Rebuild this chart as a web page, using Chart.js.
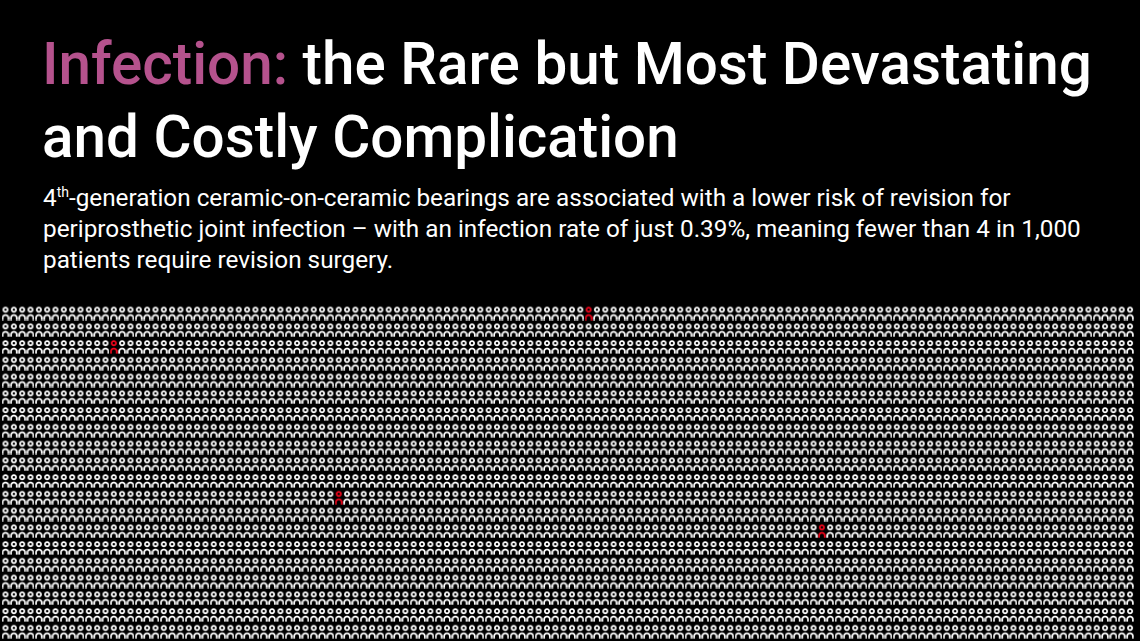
<!DOCTYPE html>
<html>
<head>
<meta charset="utf-8">
<script src="https://cdn.jsdelivr.net/npm/chart.js@4.4.1/dist/chart.umd.min.js"></script>
<style>
  html, body { margin: 0; padding: 0; background: #000; }
  body { width: 1140px; height: 641px; position: relative; overflow: hidden; font-family: Roboto, "Noto Sans", sans-serif; color: #fff; }
  .title { position: absolute; left: 42px; top: 28px; font-size: 58.4px; font-weight: 500; line-height: 73px; white-space: nowrap; }
  .title .hl { color: #b5528d; }
  .sub { position: absolute; left: 43px; top: 182px; font-size: 24.3px; line-height: 31px; white-space: nowrap; }
  .sub sup { font-size: 14px; line-height: 0; vertical-align: 9px; }
  .chart-wrap { position: absolute; left: 0; top: 300px; width: 1140px; height: 341px; }
</style>
</head>
<body>
<div class="title"><span class="hl">Infection:</span> the Rare but Most Devastating<br>and Costly Complication</div>
<div class="sub">4<sup>th</sup>-generation ceramic-on-ceramic bearings are associated with a lower risk of revision for<br>periprosthetic joint infection – with an infection rate of just 0.39%, meaning fewer than 4 in 1,000<br>patients require revision surgery.</div>
<div class="chart-wrap"><canvas id="peopleChart"></canvas></div>
<script>
// pittogramma: griglia di persone, quelle infette in rosso
const GRID_COLS = 136;
const GRID_ROWS = 20;
// celle infette [colonna, riga]
const INFECTED_COLS = [70, 13, 40, 98];
const INFECTED_ROWS = [0, 2, 11, 13];

const WHITE = "#ffffff";
const RED = "#f2061c";
const ICON_W = 8, ICON_H = 15, SS = 4; // SS: sovracampionamento

// icona persona: disegnata in alta risoluzione, poi usata come Image 8x15
function personIcon(color){
  return new Promise(resolve => {
    const c = document.createElement("canvas");
    c.width = ICON_W * SS; c.height = ICON_H * SS;
    const g = c.getContext("2d");
    g.scale(SS, SS);
    g.strokeStyle = color;
    g.lineWidth = 1.75;
    g.beginPath();
    g.arc(4, 4.2, 2.1, 0, Math.PI * 2);
    g.stroke();
    g.beginPath();
    g.moveTo(1.15, 14.6);
    g.lineTo(1.15, 12.4);
    g.arc(4, 12.4, 2.85, Math.PI, Math.PI * 2);
    g.lineTo(6.85, 14.6);
    g.stroke();
    const img = new Image();
    img.onload = () => { img.width = ICON_W; img.height = ICON_H; resolve(img); };
    img.src = c.toDataURL();
  });
}

const infectedKey = new Set(INFECTED_COLS.map((c, i) => c + "-" + INFECTED_ROWS[i]));
const healthy = [], infected = [];
for (let r = 0; r < GRID_ROWS; r++) {
  for (let c = 0; c < GRID_COLS; c++) {
    (infectedKey.has(c + "-" + r) ? infected : healthy).push({ x: c, y: r });
  }
}

// griglia: passo e scostamento in pixel, tradotti nei limiti delle scale
const PITCH_X = 8.33, OFF_X = 5.5;
const PITCH_Y = 16.75, OFF_Y = 13;
const W = 1140, H = 341;
const xMin = -OFF_X / PITCH_X, xMax = xMin + W / PITCH_X;
const yMin = -OFF_Y / PITCH_Y, yMax = yMin + H / PITCH_Y;

Promise.all([personIcon(WHITE), personIcon(RED)]).then(([iconW, iconR]) => {
  new Chart(document.getElementById("peopleChart"), {
    type: "scatter",
    data: {
      datasets: [
        { label: "Pazienti", data: healthy, pointStyle: iconW, pointRadius: 5, pointHoverRadius: 5 },
        { label: "Revisione per infezione", data: infected, pointStyle: iconR, pointRadius: 5, pointHoverRadius: 5 }
      ]
    },
    options: {
      responsive: true, maintainAspectRatio: false, animation: false,
      layout: { padding: 0, autoPadding: false },
      clip: false,
      events: [],
      plugins: { legend: { display: false }, tooltip: { enabled: false } },
      scales: {
        x: { type: "linear", min: xMin, max: xMax, display: false },
        y: { type: "linear", min: yMin, max: yMax, reverse: true, display: false }
      }
    }
  });
});
</script>
</body>
</html>
